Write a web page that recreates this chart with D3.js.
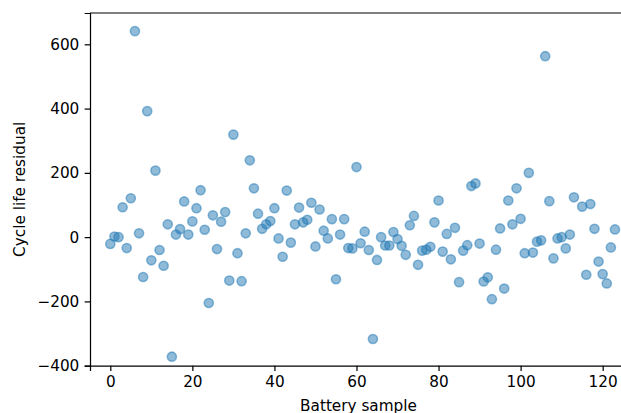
<!DOCTYPE html>
<html lang="en">
<head>
  <meta charset="UTF-8" />
  <script src="https://d3js.org/d3.v7.min.js"></script>
  <style>
    body { margin: 0; background: #fff; }
    text { font-family: "DejaVu Sans", sans-serif; }
  </style>
</head>
<body>
  <div id="scene"></div>

  <script>
    // residual per battery sample (index = battery sample); null = no point drawn
    const residuals = [
      -21, 2, 0, 93, -34, 121, 641, 12, -124, 392,
      -72, 207, -40, -89, 40, -372, 8, 25, 111, 8,
      49, 90, 146, 23, -205, 68, -37, 48, 78, -135,
      319, -50, -137, 12, 239, 152, 73, 26, 40, 50,
      90, -4, -61, 145, -17, 40, 92, 46, 54, 107,
      -29, 86, 20, -4, 56, -131, 8, 56, -34, -35,
      218, -19, 17, -40, -317, -71, 0, -26, -26, 16,
      -6, -27, -55, 37, 66, -86, -42, -39, -30, 46,
      114, -45, 10, -69, 29, -140, -42, -25, 159, 167,
      -20, -138, -125, -193, -39, 27, -160, 114, 40, 152,
      57, -50, 200, -48, -14, -10, 563, 112, -66, -4,
      0, -35, 8, 124, null, 95, -117, 103, 26, -76,
      -115, -144, -32, 24
    ];
    const xTicks = [0, 20, 40, 60, 80, 100, 120];
    const yTicks = [-400, -200, 0, 200, 400, 600];

    const W = 621, H = 413;
    const pt = 110 / 72;            // figure looks ~110 dpi
    const fs = 10 * pt;
    const tick = 3.5 * pt, pad = 3.5 * pt;

    const points = residuals
      .map((v, i) => ({ sample: i, residual: v }))
      .filter(d => d.residual !== null);

    const svg = d3.select("#scene").append("svg")
      .attr("width", W).attr("height", H);

    const margin = { left: 90, top: 13, bottom: 365.7 };
    const x = d3.scaleLinear().domain([-4.95, 127]).range([margin.left, margin.left + 131.95 * 4.103]);
    const y = d3.scaleLinear().domain([-400, 697.4]).range([margin.bottom, margin.top]);

    // points
    svg.append("g").selectAll("circle")
      .data(points).enter().append("circle")
      .attr("cx", d => x(d.sample))
      .attr("cy", d => y(d.residual))
      .attr("r", 3 * pt)
      .attr("fill", "rgba(31,119,180,0.5)")
      .attr("stroke", "rgba(31,119,180,0.5)")
      .attr("stroke-width", pt);

    // axes
    const gx = svg.append("g").attr("transform", `translate(0,${margin.bottom})`)
      .call(d3.axisBottom(x).tickValues(xTicks).tickSizeOuter(0)
        .tickSize(tick).tickPadding(pad).tickFormat(d3.format("d")));
    const gy = svg.append("g").attr("transform", `translate(${margin.left},0)`)
      .call(d3.axisLeft(y).tickValues(yTicks).tickSizeOuter(0)
        .tickSize(tick).tickPadding(pad).tickFormat(d3.format("d")));

    [gx, gy].forEach(g => {
      g.selectAll("text").attr("font-size", fs).attr("fill", "#000")
        .attr("font-family", "DejaVu Sans");
      g.selectAll("line").attr("stroke", "#000").attr("stroke-width", 0.8 * pt);
      g.select(".domain").attr("stroke", "#000").attr("stroke-width", 0.8 * pt);
    });

    // top spine
    svg.append("line")
      .attr("x1", margin.left).attr("x2", W + 20)
      .attr("y1", margin.top).attr("y2", margin.top)
      .attr("stroke", "#000").attr("stroke-width", 0.8 * pt);

    // Titles
    svg.append("text")
      .attr("x", 358.5).attr("y", 410.5)
      .attr("text-anchor", "middle")
      .attr("font-size", fs)
      .text("Battery sample");

    svg.append("text")
      .attr("transform", `translate(24.8,${(margin.top + margin.bottom) / 2}) rotate(-90)`)
      .attr("text-anchor", "middle")
      .attr("font-size", fs)
      .text("Cycle life residual");
  </script>
</body>
</html>
